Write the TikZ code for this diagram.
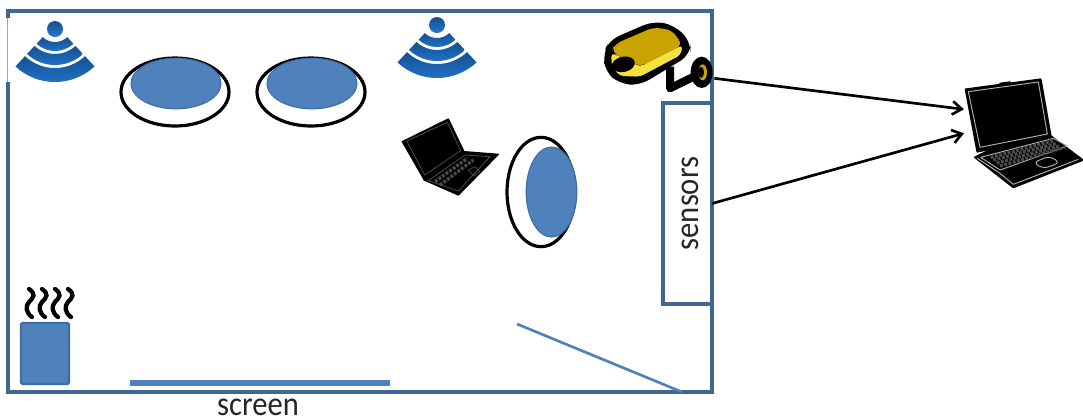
\documentclass[tikz,border=0pt]{standalone}
\usepackage{fontspec}
\setmainfont{Carlito}
\newfontfamily\labelfont[FakeStretch=0.9]{Carlito}
\usetikzlibrary{arrows.meta,shapes.geometric}
\definecolor{roomc}{HTML}{41668F}
\definecolor{bluef}{HTML}{4F81BD}
\definecolor{bluee}{HTML}{3F6CA3}
\definecolor{goldd}{HTML}{C9A300}
\definecolor{goldl}{HTML}{F5E23C}
\definecolor{wifib}{HTML}{2478D2}
\definecolor{wifid}{HTML}{14508F}
\tikzset{
  x=0.75pt,y=-0.75pt,
  roomline/.style={draw=roomc,line width=2.4pt,rectangle,inner sep=0pt,outer sep=0pt},
  disc/.style={draw=black,line width=2.4pt,fill=white,ellipse,inner sep=0pt},
  puck/.style={draw=bluee,line width=0.8pt,fill=bluef,ellipse,inner sep=0pt},
  flow/.style={draw=black,line width=2pt,-{Straight Barb[length=7pt,width=10pt,line width=2pt]}},
  wave/.style={draw=black,line width=3.2pt,line cap=round},
  keyrow/.style={draw=black!70,line width=2.4pt,dash pattern=on 2.2pt off 1.1pt},
  wifiband/.style={top color=wifid,bottom color=wifib,draw=none},
  zoomed/.style={shift={#1},x=0.25pt,y=-0.25pt},
  lapline/.style={draw=black!70,line width=0.6pt,line join=round},
  lapbright/.style={draw=black!30,line width=0.7pt,line join=round},
  lapbody/.style={fill=black,draw=black,line width=1pt,line join=round},
  textlabel/.style={font=\labelfont\fontsize{25.5}{28}\selectfont,text=black!85},
}
\newcommand{\wifiarc}[2]{%
  (47:#1) arc[start angle=47,end angle=133,radius=#1] -- (133:#2) arc[start angle=133,end angle=47,radius=#2] -- cycle}
\newcommand{\wifi}[2]{%
  \begin{scope}[shift={(#1,#2)}]
    \shade[wifiband] \wifiarc{18}{27};
    \shade[wifiband] \wifiarc{30}{41};
    \shade[wifiband] \wifiarc{44}{58};
    \shade[top color=wifid,bottom color=wifib] (0,5) circle[radius=8];
  \end{scope}}
\newcommand{\squig}[1]{%
  \draw[wave] (#1,289) .. controls (#1+7,294) and (#1+5,297) .. (#1,302) .. controls (#1-4,306) and (#1-3,313) .. (#1+3,317);}
\begin{document}
\begin{tikzpicture}
\useasboundingbox (0,0) rectangle (1083,419);
\fill[white] (0,0) rectangle (1083,419);

% room
\node[roomline,minimum width=528pt,minimum height=285.75pt,anchor=north west] (room) at (8,11) {};
\draw[white,line width=2.8pt] (8,18) -- (8,82);
\draw[black!35,line width=0.7pt] (7,18) -- (7,82);

% wifi
\wifi{55}{24}
\wifi{437}{20}

% discs
\node[disc,minimum width=81pt,minimum height=51pt] (d1) at (175,92) {};
\node[puck,minimum width=67.5pt,minimum height=38pt] (p1) at (176,83.5) {};
\node[disc,minimum width=81pt,minimum height=51pt] (d2) at (311,92) {};
\node[puck,minimum width=67.5pt,minimum height=38pt] (p2) at (312,83.5) {};
\node[disc,minimum width=51pt,minimum height=82pt] (d3) at (541,192) {};
\node[puck,minimum width=38pt,minimum height=67.5pt] (p3) at (551.5,192) {};

% sensors
\node[roomline,textlabel,rotate=90,minimum width=150.75pt,minimum height=36.75pt] (sensors) at (687.5,203.5) {\raisebox{-7.9pt}[0pt][0pt]{sensors}};

% screen and mirror
\coordinate (s1) at (130,383);
\coordinate (s2) at (390,383);
\draw[draw=bluef,line width=3.8pt] (s1) -- (s2);
\node[textlabel,inner sep=0pt] (screenlabel) at (258,407) {screen};
\coordinate (m1) at (517,324);
\coordinate (m2) at (682,392);
\draw[draw=bluef,line width=2pt] (m1) -- (m2);

% heater
\node[draw=bluee,line width=1.6pt,fill=bluef,rectangle,rounded corners=1pt,inner sep=0pt,outer sep=0pt,minimum width=36pt,minimum height=45.75pt,anchor=north west] (heater) at (21,323) {};
\squig{29}\squig{42}\squig{55}\squig{68}

% camera (reference crop scale, 3x, origin 590,10)
\begin{scope}[zoomed={(590,10)}]
  \draw[black,line width=6pt,line join=round] (240,170) -- (240,235) -- (315,198);
  \fill[black,rounded corners=8pt] (40,130) -- (58,90) -- (190,33) -- (252,45) -- (303,95) -- (300,135) -- (150,226) -- (90,222) -- (45,185) -- cycle;
  \fill[goldd,rounded corners=5pt] (64,125) -- (75,102) -- (190,52) -- (245,60) -- (278,105) -- (150,170) -- (100,145) -- cycle;
  \fill[goldl,rounded corners=3pt] (64,128) -- (100,145) -- (150,170) -- (278,105) -- (272,135) -- (150,200) -- (90,198) -- (65,170) -- cycle;
  \fill[black,rotate around={12:(100,163)}] (100,163) ellipse[x radius=35,y radius=23];
  \fill[black] (335,187) ellipse[x radius=33,y radius=47];
  \fill[goldd] (338,187) ellipse[x radius=13,y radius=24];
  \fill[black] (333,187) ellipse[x radius=9,y radius=17];
  \coordinate (camout) at (373,205);
\end{scope}

% small laptop (crop scale, origin 390,110)
\begin{scope}[zoomed={(390,110)}]
  \draw[lapbody] (37,95) -- (175,27) -- (222,125) -- (103,210) -- cycle;
  \draw[lapline] (50,93) -- (172,37) -- (212,122) -- (104,195) -- cycle;
  \draw[lapbody] (103,210) -- (222,125) -- (325,133) -- (205,255) -- cycle;
  \draw[lapline] (115,212) -- (225,135) -- (300,140) -- (205,243) -- cycle;
  \draw[keyrow] (135,215) -- (232,145);
  \draw[keyrow] (150,225) -- (250,150);
  \draw[lapline] (235,180) -- (255,170) -- (270,185) -- (250,197) -- cycle;
\end{scope}

% big laptop (crop scale, origin 950,70)
\begin{scope}[zoomed={(950,70)}]
  \draw[lapbody] (150,40) -- (180,36) -- (180,44) -- (150,46) -- cycle;
  \draw[lapbody,line width=1.4pt] (47,58) -- (272,28) -- (302,198) -- (82,245) -- cycle;
  \draw[lapbright] (55,65) -- (265,36) -- (292,192) -- (90,232) -- cycle;
  \draw[lapbody,line width=1.4pt] (75,262) -- (120,240) -- (302,198) -- (398,270) -- (190,352) -- cycle;
  \draw[lapbright] (92,262) -- (310,205) -- (352,228) -- (150,300) -- cycle;
  \draw[lapbright] (82,265) -- (150,310) -- (190,343) -- (385,268);
  \draw[keyrow] (122,262) -- (310,212);
  \draw[keyrow] (130,270) -- (320,220);
  \draw[keyrow] (140,279) -- (330,227);
  \draw[keyrow] (150,288) -- (345,232);
  \draw[lapbright,rounded corners=4pt] (250,278) -- (298,258) -- (330,278) -- (280,296) -- cycle;
  \coordinate (lap1) at (42,118);
  \coordinate (lap2) at (42,190);
\end{scope}

% connectors
\draw[flow] (camout) -- (lap1);
\draw[flow] (sensors.south) -- (lap2);
\end{tikzpicture}
\end{document}
